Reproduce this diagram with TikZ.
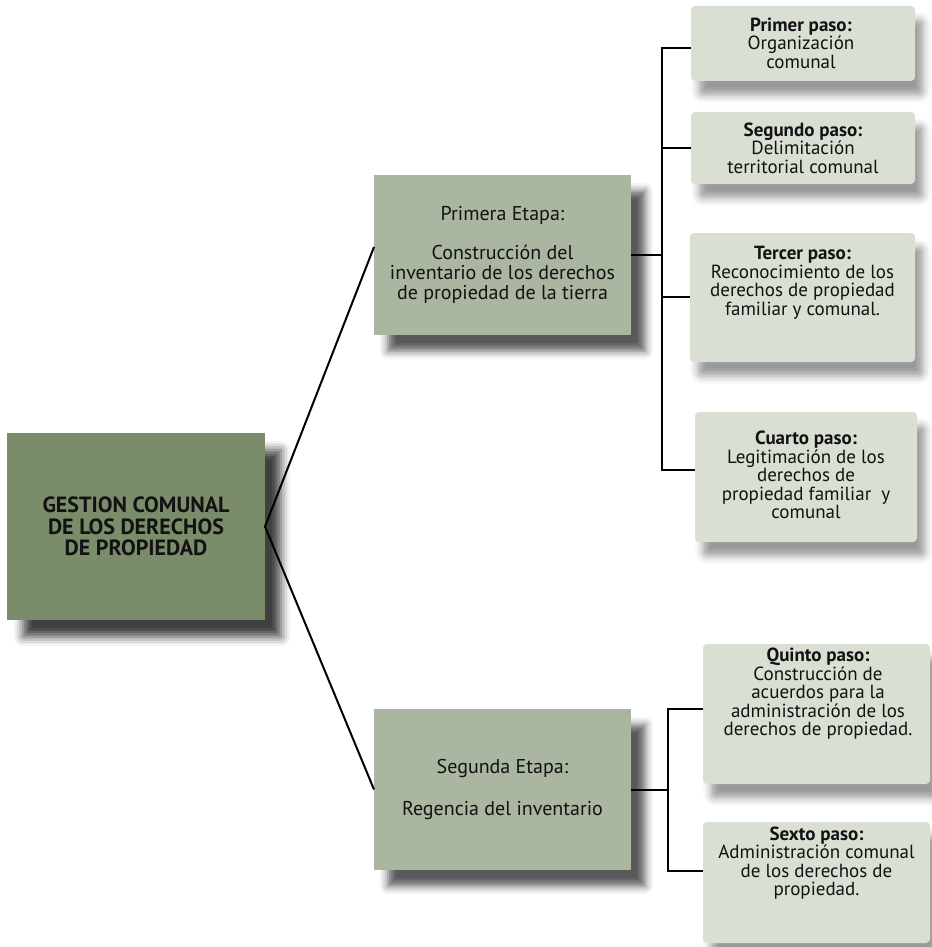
\documentclass[tikz,border=0pt]{standalone}
\usepackage{fontspec}
\setmainfont{PT Sans}
\usetikzlibrary{shadows.blur}
\definecolor{maingreen}{RGB}{122,140,106}
\definecolor{stagegreen}{RGB}{170,182,160}
\definecolor{stepgrey}{RGB}{218,223,212}
\definecolor{inkdark}{RGB}{18,18,18}
\begin{document}
\begin{tikzpicture}[x=1pt,y=1pt,
  box/.style={rectangle, inner sep=0pt, outer sep=0pt, text=inkdark, align=center},
  rootbox/.style={box, fill=maingreen, font=\fontsize{22}{21.5}\selectfont\bfseries,
    blur shadow={shadow xshift=16pt, shadow yshift=-17pt, shadow blur radius=9pt, shadow opacity=75}},
  stagebox/.style={box, fill=stagegreen, font=\fontsize{20}{20}\selectfont,
    blur shadow={shadow xshift=14pt, shadow yshift=-16pt, shadow blur radius=8pt, shadow opacity=65}},
  stepbox/.style={box, fill=stepgrey, rounded corners=4pt,
    blur shadow={shadow xshift=8pt, shadow yshift=-14pt, shadow blur radius=8pt, shadow opacity=40}},
  steptext/.style={text=inkdark, align=center, inner sep=0pt, font=\fontsize{19}{18.5}\selectfont},
  conn/.style={draw=black, line width=2pt}
]
\useasboundingbox (0,0) rectangle (931,-947);

% root and the two stages
\node[rootbox, minimum width=258pt, minimum height=187pt] (root) at (136,-526.5)
  {GESTION COMUNAL\\DE LOS DERECHOS\\DE PROPIEDAD};
\node[stagebox, minimum width=257pt, minimum height=160pt] (st1) at (502.5,-255)
  {Primera Etapa:\\[19pt]Construcción del\\inventario de los derechos\\de propiedad de la tierra};
\node[stagebox, minimum width=257pt, minimum height=161pt] (st2) at (502.5,-789.5)
  {Segunda Etapa:\\[22pt]Regencia del inventario};

% step boxes
\node[stepbox, minimum width=224pt, minimum height=75pt]  (b1) at (803,-43.5) {};
\node[stepbox, minimum width=224pt, minimum height=72pt]  (b2) at (803,-148) {};
\node[stepbox, minimum width=225pt, minimum height=129pt] (b3) at (802.5,-297.5) {};
\node[stepbox, minimum width=222pt, minimum height=130pt] (b4) at (806,-477) {};
\node[stepbox, minimum width=227pt, minimum height=140pt] (b5) at (816.5,-714) {};
\node[stepbox, minimum width=227pt, minimum height=121pt] (b6) at (816.5,-882.5) {};

% step texts
\node[steptext] (t1) at (801,-43) {\textbf{Primer paso:}\\Organización\\comunal};
\node[steptext] (t2) at (803,-148) {\textbf{Segundo paso:}\\Delimitación\\territorial comunal};
\node[steptext] (t3) at (802.5,-283) {\textbf{Tercer paso:}\\Reconocimiento de los\\derechos de propiedad\\familiar y comunal.};
\node[steptext] (t4) at (806,-475) {\textbf{Cuarto paso:}\\Legitimación de los\\derechos de\\propiedad familiar\ \ y\\comunal};
\node[steptext] (t5) at (818,-694) {\textbf{Quinto paso:}\\Construcción de\\acuerdos para la\\administración de los\\derechos de propiedad.};
\node[steptext] (t6) at (816.5,-863) {\textbf{Sexto paso:}\\Administración comunal\\de los derechos de\\propiedad.};

% junction points of the brackets
\coordinate (j1) at (662,-48);
\coordinate (j2) at (662,-148);
\coordinate (j3) at (662,-297);
\coordinate (j4) at (662,-470);
\coordinate (k5) at (668,-709);
\coordinate (k6) at (668,-871);

% connectors
\draw[conn] ([yshift=8pt]st1.west) -- (root.east) -- (st2.west);
\draw[conn] (st1.east) -- (st1.east -| j1);
\draw[conn] (b1.west |- j1) -- (j1) -- (j4) -- (b4.west |- j4);
\draw[conn] (j2) -- (b2.west |- j2);
\draw[conn] (j3) -- (b3.west |- j3);
\draw[conn] (st2.east) -- (st2.east -| k5);
\draw[conn] (b5.west |- k5) -- (k5) -- (k6) -- (b6.west |- k6);
\end{tikzpicture}
\end{document}
